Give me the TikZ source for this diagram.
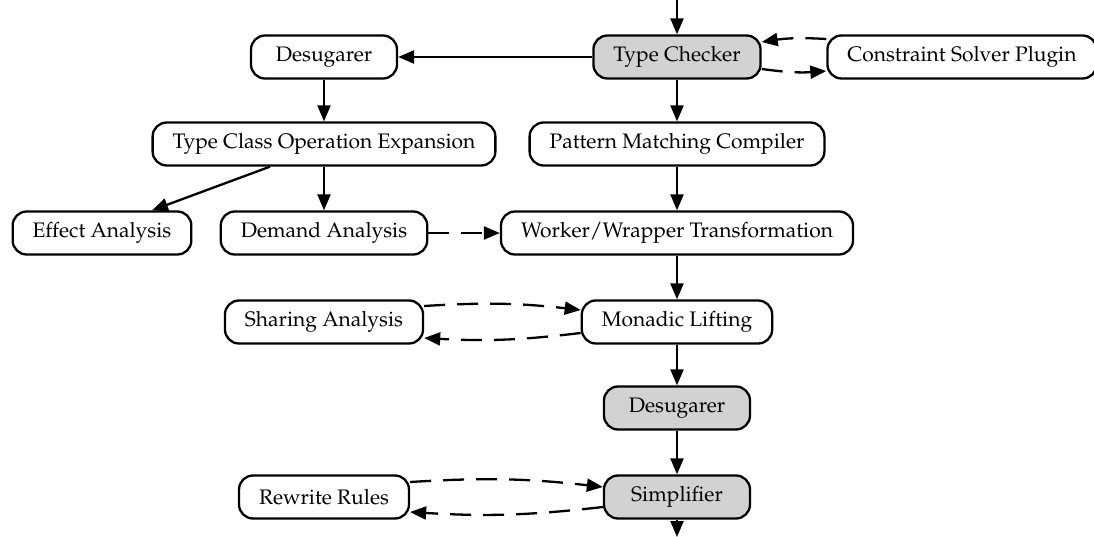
\documentclass[tikz,border=0pt]{standalone}
\IfFileExists{mathpazo.sty}{\usepackage[T1]{fontenc}\usepackage{mathpazo}}{\usepackage{fontspec}\setmainfont{Liberation Serif}}
\usetikzlibrary{arrows.meta}
\tikzset{
  box/.style={draw, line width=2.3pt, rounded corners=14pt, minimum height=43pt,
    minimum width=146pt, inner xsep=20pt, font=\fontsize{21}{25}\selectfont, fill=white},
  hot/.style={box, fill=gray!35},
  flow/.style={line width=2.3pt, -{Triangle[length=16pt,width=13pt]}},
  aux/.style={flow, dash pattern=on 21pt off 12pt},
}
\begin{document}
\begin{tikzpicture}[x=1pt,y=-1pt]
\useasboundingbox (0,0) rectangle (1094,537);
\node[hot] (tc) at (677,57) {Type Checker};
\node[box] (csp) at (962,57) {Constraint Solver Plugin};
\node[box] (des1) at (324,57) {Desugarer};
\node[box] (tcoe) at (324,144) {Type Class Operation Expansion};
\node[box] (pmc) at (677,144) {Pattern Matching Compiler};
\node[box] (eff) at (102,233) {Effect Analysis};
\node[box] (dem) at (324,233) {Demand Analysis};
\node[box] (ww) at (677,233) {Worker/Wrapper Transformation};
\node[box] (shr) at (324,322) {Sharing Analysis};
\node[box] (ml) at (677,322) {Monadic Lifting};
\node[hot] (des2) at (677,408) {Desugarer};
\node[hot] (simp) at (677,497) {Simplifier};
\node[box] (rr) at (324,497) {Rewrite Rules};
\coordinate (in) at (677,0);
\coordinate (out) at (677,537);

\draw[flow] (in) -- (tc);
\draw[flow] (tc) -- (des1);
\draw[aux] ([yshift=18pt]csp.west) to[bend right=6] ([yshift=15pt]tc.east);
\draw[aux] ([yshift=-12pt]tc.east) to[bend right=6] ([yshift=-14pt]csp.west);
\draw[flow] (des1) -- (tcoe);
\draw[flow] (tc) -- (pmc);
\draw[flow] ([xshift=-54pt]tcoe.south) -- ([xshift=50pt]eff.north);
\draw[flow] (tcoe) -- (dem);
\draw[flow] (pmc) -- (ww);
\draw[aux] (dem) -- (ww);
\draw[flow] (ww) -- (ml);
\draw[aux] ([yshift=16pt]shr.east) to[bend left=5] ([yshift=12pt]ml.west);
\draw[aux] ([yshift=-11pt]ml.west) to[bend left=5] ([yshift=-16pt]shr.east);
\draw[flow] (ml) -- (des2);
\draw[flow] (des2) -- (simp);
\draw[aux] ([yshift=15pt]rr.east) to[bend left=5] ([yshift=10pt]simp.west);
\draw[aux] ([yshift=-10pt]simp.west) to[bend left=5] ([yshift=-15pt]rr.east);
\draw[flow] (simp) -- (out);
\end{tikzpicture}
\end{document}
